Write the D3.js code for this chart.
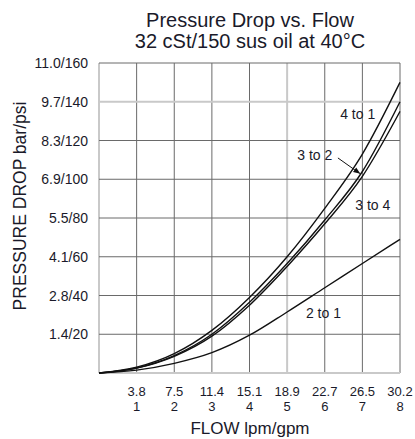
<!DOCTYPE html>
<html>
<head>
<meta charset="utf-8">
<script src="https://cdn.jsdelivr.net/npm/d3@7/dist/d3.min.js"></script>
<style>
  html, body { margin: 0; padding: 0; background: #fff; }
  svg { display: block; font-family: "Liberation Sans", Arial, Helvetica, sans-serif; }
</style>
</head>
<body>
<svg id="chart" width="415" height="439"></svg>
<script>
// ---- data ----
const flowGpm = [0, 1, 2, 3, 4, 5, 6, 7, 8];
const flowLpmLabels = ["3.8", "7.5", "11.4", "15.1", "18.9", "22.7", "26.5", "30.2"];
const flowGpmLabels = ["1", "2", "3", "4", "5", "6", "7", "8"];
const pressurePsi = [20, 40, 60, 80, 100, 120, 140, 160];
const pressureLabels = ["1.4/20", "2.8/40", "4.1/60", "5.5/80", "6.9/100", "8.3/120", "9.7/140", "11.0/160"];

const fourToOne   = [0, 3.0, 10, 22, 39, 60, 85, 113, 150];
const threeToTwo  = [0, 2.6, 9.0, 20, 36.5, 56.5, 79, 104, 140];
const threeToFour = [0, 2.5, 8.6, 19, 35, 55, 77, 101.5, 135];
const twoToOne    = [0, 1.5, 5.0, 10.5, 19.5, 31.5, 44, 56.5, 69];

const seriesNames = ["4 to 1", "3 to 2", "3 to 4", "2 to 1"];
const seriesValues = [fourToOne, threeToTwo, threeToFour, twoToOne];

// ---- layout ----
const svg = d3.select("#chart");
const x = d3.scaleLinear().domain([0, 8]).range([99, 400]);
const y = d3.scaleLinear().domain([0, 160]).range([373, 63]);

// grid
const lightX = new Set([0, 5]);
const lightY = new Set([0, 140]);
const gridX = d3.range(0, 9);
const gridY = [0].concat(pressurePsi);

svg.append("g").selectAll("line.gx").data(gridX).join("line")
  .attr("x1", d => x(d)).attr("x2", d => x(d))
  .attr("y1", y(0)).attr("y2", y(160))
  .attr("stroke", d => lightX.has(d) ? "#c9c9c9" : "#6a6a6a")
  .attr("stroke-width", d => lightX.has(d) ? 2 : 1);

svg.append("g").selectAll("line.gy").data(gridY).join("line")
  .attr("x1", x(0)).attr("x2", x(8))
  .attr("y1", d => y(d)).attr("y2", d => y(d))
  .attr("stroke", d => lightY.has(d) ? "#c9c9c9" : "#6a6a6a")
  .attr("stroke-width", d => lightY.has(d) ? 2 : 1);

// y tick labels
svg.append("g").selectAll("text").data(pressurePsi).join("text")
  .attr("x", 88).attr("y", d => y(d)).attr("dy", "0.36em")
  .attr("text-anchor", "end").attr("font-size", 14).attr("fill", "#1a1a2a")
  .text((d, i) => pressureLabels[i]);

// x tick labels (two lines)
const xt = svg.append("g").selectAll("g").data(flowGpm.slice(1)).join("g");
xt.append("text").attr("x", d => x(d)).attr("y", 396)
  .attr("text-anchor", "middle").attr("font-size", 13).attr("fill", "#1a1a2a")
  .text((d, i) => flowLpmLabels[i]);
xt.append("text").attr("x", d => x(d)).attr("y", 410.5)
  .attr("text-anchor", "middle").attr("font-size", 13).attr("fill", "#1a1a2a")
  .text((d, i) => flowGpmLabels[i]);

// axis titles
svg.append("text").attr("x", 250).attr("y", 434)
  .attr("text-anchor", "middle").attr("font-size", 17).attr("fill", "#1a1a2a")
  .text("FLOW lpm/gpm");
svg.append("text").attr("transform", "translate(26,206) rotate(-90)")
  .attr("text-anchor", "middle").attr("font-size", 17.5).attr("fill", "#1a1a2a")
  .text("PRESSURE DROP bar/psi");

// title
svg.append("text").attr("x", 250).attr("y", 27)
  .attr("text-anchor", "middle").attr("font-size", 20).attr("fill", "#1a1a2a")
  .text("Pressure Drop vs. Flow");
svg.append("text").attr("x", 250).attr("y", 48)
  .attr("text-anchor", "middle").attr("font-size", 20).attr("fill", "#1a1a2a")
  .text("32 cSt/150 sus oil at 40°C");

// curves
const line = d3.line()
  .x((d, i) => x(flowGpm[i]))
  .y(d => y(d))
  .curve(d3.curveMonotoneX);

svg.append("g").selectAll("path").data(seriesValues).join("path")
  .attr("d", d => line(d))
  .attr("fill", "none").attr("stroke", "#111").attr("stroke-width", 1.4);

// curve labels
const labelPos = [
  { name: "4 to 1", gpm: 6.41, psi: 131 },
  { name: "3 to 2", gpm: 5.27, psi: 110 },
  { name: "3 to 4", gpm: 6.81, psi: 84 },
  { name: "2 to 1", gpm: 5.5, psi: 28.5 }
];
svg.append("g").selectAll("text").data(labelPos).join("text")
  .attr("x", d => x(d.gpm)).attr("y", d => y(d.psi))
  .attr("font-size", 14).attr("fill", "#1a1a2a")
  .text(d => d.name);

// arrow from "3 to 2" to its curve
svg.append("defs").append("marker")
  .attr("id", "ah").attr("viewBox", "0 0 10 10")
  .attr("refX", 9).attr("refY", 5)
  .attr("markerWidth", 7).attr("markerHeight", 7)
  .attr("orient", "auto")
  .append("path").attr("d", "M0,1 L10,5 L0,9 Z").attr("fill", "#111");

const arrowFrom = { gpm: 6.35, psi: 111 };
const arrowTo = { gpm: 6.93, psi: 103 };
svg.append("line")
  .attr("x1", x(arrowFrom.gpm)).attr("y1", y(arrowFrom.psi))
  .attr("x2", x(arrowTo.gpm)).attr("y2", y(arrowTo.psi))
  .attr("stroke", "#111").attr("stroke-width", 1)
  .attr("marker-end", "url(#ah)");
</script>
</body>
</html>
